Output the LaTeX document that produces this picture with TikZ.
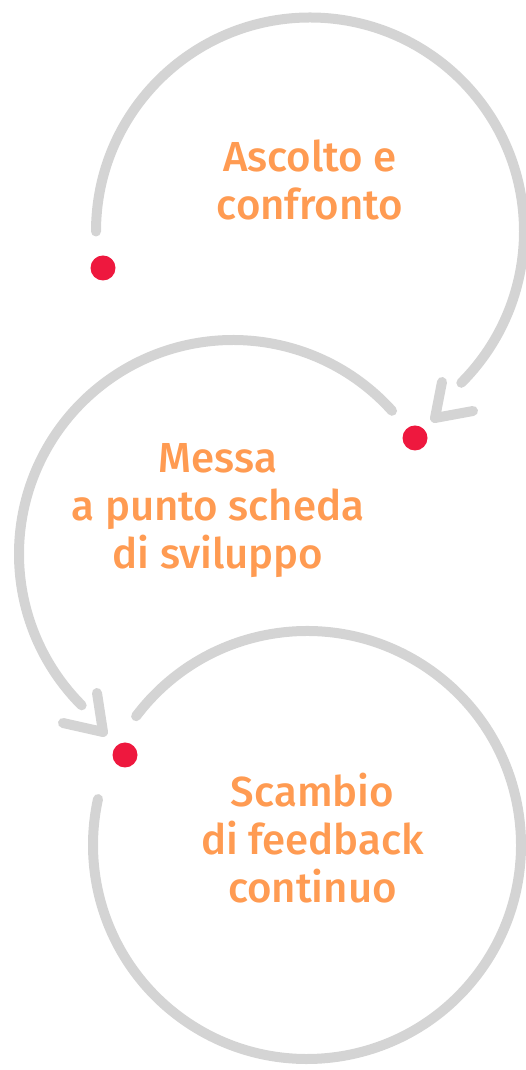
\documentclass[tikz,border=0pt]{standalone}
\usepackage{fontspec}
\setmainfont{Fira Sans}[UprightFont={* Medium}]
\usepackage{tikz}
\usetikzlibrary{calc}
\definecolor{ringgray}{RGB}{212,212,212}
\definecolor{phaseorange}{RGB}{255,155,82}
\definecolor{pointred}{RGB}{238,24,62}

\begin{document}
\begin{tikzpicture}[x=1pt,y=1pt,dot/.style={circle, inner sep=0pt, minimum size=25pt, fill=pointred}]
    \tikzset{ring/.style={draw=ringgray, line width=10pt, line cap=round, line join=round}}
    \tikzset{phase/.style={text=phaseorange, align=center, anchor=base, inner sep=0pt, font=\fontsize{42}{48}\selectfont}}
    \useasboundingbox (0,0) rectangle (526,1070);
    \def \r {214}
    % centri dei tre cerchi
    \coordinate (c1) at (310,838.5);
    \coordinate (c2) at (233,516);
    \coordinate (c3) at (307,225);

    % archi
    \draw[ring] (c1) ++(180:\r) arc (180:-45:\r);
    \draw[ring] (c2) ++(42:\r) arc (42:225:\r);
    \draw[ring] (c3) ++(143:\r) arc (143:-192.4:\r);

    % punte
    \coordinate (tip1) at (435,652); \coordinate (arm1a) at (442,688); \coordinate (arm1b) at (473,659);
    \coordinate (tip2) at (103,338); \coordinate (arm2a) at (97,377);  \coordinate (arm2b) at (63,347);
    \draw[ring] (arm1a) -- (tip1) -- (arm1b);
    \draw[ring] (arm2a) -- (tip2) -- (arm2b);

    \node[dot] (dot1) at (103,802) {};
    \node[dot] (dot2) at (415,632) {};
    \node[dot] (dot3) at (125,315) {};

    % base = ultima riga
    \node[phase] (ascolto) at (310,850) {Ascolto e\\confronto};
    \node[phase] (messa) at (218,501) {Messa\\a punto scheda\\di sviluppo};
    \node[phase] (scambio) at (312.5,167) {Scambio\\di feedback\\continuo};
\end{tikzpicture}
\end{document}
